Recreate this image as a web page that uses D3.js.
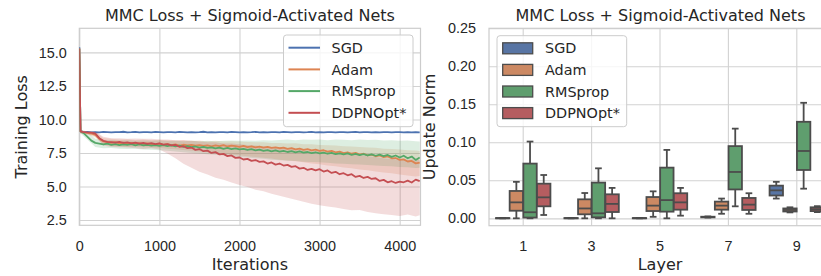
<!DOCTYPE html>
<html>
<head>
<meta charset="utf-8">
<script src="https://cdn.jsdelivr.net/npm/d3@7"></script>
<style>
  body { margin: 0; background: #fff; }
  svg { display: block; font-family: "DejaVu Sans", sans-serif; }
  .grid line { stroke: #d2d2d2; stroke-width: 1.1; }
  .grid path { display: none; }
  .tick-labels path, .tick-labels line { display: none; }
  .tick-labels text { fill: #262626; font-size: 14.4px; }
</style>
</head>
<body>
<div id="chart"></div>
<script>
// Left panel: training loss curves (iterations sampled every 50)
const iters = [
  0, 15, 50, 100, 150, 200, 250, 300, 350, 400,
  450, 500, 550, 600, 650, 700, 750, 800, 850, 900,
  950, 1000, 1050, 1100, 1150, 1200, 1250, 1300, 1350, 1400,
  1450, 1500, 1550, 1600, 1650, 1700, 1750, 1800, 1850, 1900,
  1950, 2000, 2050, 2100, 2150, 2200, 2250, 2300, 2350, 2400,
  2450, 2500, 2550, 2600, 2650, 2700, 2750, 2800, 2850, 2900,
  2950, 3000, 3050, 3100, 3150, 3200, 3250, 3300, 3350, 3400,
  3450, 3500, 3550, 3600, 3650, 3700, 3750, 3800, 3850, 3900,
  3950, 4000, 4050, 4100, 4150, 4200, 4250
];

const sgdLoss = [
  15.4, 9.15, 9.05, 9.07, 9.03, 9.06, 9.04, 9.07, 9.05, 9.03,
  9.06, 9.05, 9.08, 9.04, 9.05, 9.07, 9.03, 9.05, 9.06, 9.04,
  9.07, 9.05, 9.03, 9.06, 9.05, 9.04, 9.07, 9.05, 9.03, 9.06,
  9.04, 9.05, 9.08, 9.04, 9.05, 9.03, 9.06, 9.05, 9.04, 9.07,
  9.05, 9.03, 9.06, 9.04, 9.05, 9.07, 9.04, 9.05, 9.03, 9.06,
  9.05, 9.04, 9.07, 9.05, 9.03, 9.05, 9.06, 9.04, 9.05, 9.07,
  9.04, 9.05, 9.03, 9.06, 9.05, 9.04, 9.06, 9.05, 9.03, 9.05,
  9.07, 9.04, 9.05, 9.06, 9.03, 9.05, 9.04, 9.06, 9.05, 9.03,
  9.05, 9.06, 9.04, 9.05, 9.03, 9.05, 9.04
];

const adamLoss = [
  15.3, 9.1, 9.05, 9.0, 8.95, 8.85, 8.55, 8.36, 8.3, 8.26,
  8.31, 8.22, 8.27, 8.2, 8.25, 8.17, 8.23, 8.15, 8.21, 8.16,
  8.12, 8.19, 8.1, 8.15, 8.08, 8.13, 8.05, 8.11, 8.06, 8.1,
  8.04, 8.09, 8.02, 8.07, 7.99, 8.06, 8.01, 8.08, 7.98, 8.04,
  8.0, 7.96, 8.03, 7.94, 7.99, 7.92, 7.97, 7.9, 7.95, 7.87,
  7.92, 7.85, 7.9, 7.8, 7.86, 7.76, 7.82, 7.73, 7.78, 7.69,
  7.74, 7.65, 7.7, 7.6, 7.66, 7.55, 7.6, 7.49, 7.55, 7.44,
  7.5, 7.38, 7.44, 7.32, 7.37, 7.25, 7.31, 7.18, 7.24, 7.1,
  7.12, 6.98, 7.02, 6.86, 6.9, 6.72, 6.78
];

const rmspropLoss = [
  15.3, 9.1, 9.0, 8.72, 8.42, 8.25, 8.2, 8.13, 8.19, 8.1,
  8.16, 8.08, 8.14, 8.1, 8.16, 8.07, 8.13, 8.06, 8.11, 8.04,
  8.09, 8.03, 8.08, 8.01, 8.06, 7.99, 8.04, 7.96, 8.01, 7.93,
  7.98, 7.9, 7.95, 7.87, 7.92, 7.84, 7.89, 7.81, 7.87, 7.78,
  7.84, 7.76, 7.81, 7.72, 7.78, 7.69, 7.75, 7.66, 7.71, 7.62,
  7.69, 7.6, 7.66, 7.57, 7.63, 7.54, 7.61, 7.52, 7.57, 7.48,
  7.55, 7.46, 7.53, 7.44, 7.51, 7.41, 7.47, 7.39, 7.46, 7.36,
  7.43, 7.33, 7.41, 7.31, 7.39, 7.29, 7.37, 7.26, 7.35, 7.21,
  7.31, 7.16, 7.29, 7.1, 7.23, 6.98, 7.16
];

const ddpnLoss = [
  15.3, 9.1, 9.05, 9.03, 9.02, 8.95, 8.6, 8.4, 8.33, 8.3,
  8.27, 8.32, 8.25, 8.29, 8.22, 8.27, 8.2, 8.25, 8.18, 8.23,
  8.15, 8.21, 8.12, 8.16, 8.06, 8.1, 7.96, 8.0, 7.86, 7.9,
  7.73, 7.79, 7.63, 7.67, 7.5, 7.56, 7.39, 7.43, 7.26, 7.31,
  7.13, 7.16, 7.01, 7.06, 6.91, 6.97, 6.83, 6.87, 6.71, 6.79,
  6.63, 6.71, 6.56, 6.61, 6.46, 6.51, 6.33, 6.39, 6.23, 6.31,
  6.2, 6.29, 6.11, 6.19, 6.01, 6.09, 5.91, 5.99, 5.83, 5.91,
  5.71, 5.79, 5.63, 5.71, 5.56, 5.61, 5.41, 5.49, 5.31, 5.39,
  5.26, 5.36, 5.31, 5.43, 5.29, 5.51, 5.39
];

// Confidence bands (sampled every 100)
const bandIters = [
  0, 15, 100, 200, 300, 400, 500, 600, 700, 800,
  900, 1000, 1100, 1200, 1300, 1400, 1500, 1600, 1700, 1800,
  1900, 2000, 2100, 2200, 2300, 2400, 2500, 2600, 2700, 2800,
  2900, 3000, 3100, 3200, 3300, 3400, 3500, 3600, 3700, 3800,
  3900, 4000, 4100, 4200, 4250
];
const adamLow = [
  15.0, 8.95, 8.88, 8.65, 8.12, 8.02, 7.98, 7.95, 7.97, 7.92,
  7.9, 7.88, 7.82, 7.78, 7.72, 7.66, 7.6, 7.55, 7.5, 7.44,
  7.38, 7.33, 7.26, 7.2, 7.14, 7.08, 7.0, 6.94, 6.88, 6.8,
  6.72, 6.66, 6.57, 6.5, 6.42, 6.35, 6.27, 6.2, 6.12, 6.04,
  5.98, 5.9, 5.82, 5.75, 5.78
];
const adamHigh = [
  15.6, 9.2, 9.12, 9.06, 8.62, 8.56, 8.5, 8.52, 8.46, 8.5,
  8.45, 8.48, 8.44, 8.42, 8.45, 8.4, 8.42, 8.38, 8.4, 8.35,
  8.38, 8.35, 8.32, 8.3, 8.3, 8.25, 8.25, 8.2, 8.22, 8.15,
  8.15, 8.1, 8.08, 8.05, 8.0, 7.98, 7.95, 7.9, 7.88, 7.82,
  7.8, 7.75, 7.7, 7.68, 7.65
];
const rmspropLow = [
  15.0, 8.95, 8.5, 7.95, 7.85, 7.87, 7.82, 7.8, 7.82, 7.75,
  7.74, 7.7, 7.66, 7.6, 7.56, 7.5, 7.46, 7.4, 7.36, 7.3,
  7.26, 7.2, 7.16, 7.1, 7.06, 7.0, 6.96, 6.92, 6.89, 6.85,
  6.83, 6.8, 6.76, 6.72, 6.7, 6.65, 6.63, 6.6, 6.56, 6.52,
  6.5, 6.45, 6.43, 6.38, 6.4
];
const rmspropHigh = [
  15.6, 9.2, 9.05, 8.55, 8.45, 8.47, 8.42, 8.45, 8.4, 8.43,
  8.4, 8.42, 8.39, 8.41, 8.38, 8.41, 8.38, 8.4, 8.37, 8.41,
  8.42, 8.4, 8.43, 8.4, 8.45, 8.42, 8.46, 8.5, 8.45, 8.51,
  8.48, 8.5, 8.45, 8.51, 8.48, 8.45, 8.5, 8.46, 8.48, 8.42,
  8.45, 8.4, 8.42, 8.38, 8.35
];
const ddpnLow = [
  15.0, 8.95, 8.9, 8.75, 8.05, 7.95, 7.92, 7.9, 7.85, 7.8,
  7.85, 7.75, 7.45, 7.1, 6.7, 6.4, 6.1, 5.9, 5.65, 5.5,
  5.3, 5.1, 4.95, 4.75, 4.65, 4.45, 4.3, 4.15, 4.0, 3.85,
  3.7, 3.6, 3.5, 3.42, 3.32, 3.22, 3.25, 3.1, 3.0, 2.92,
  2.86, 2.8, 2.9, 2.75, 2.85
];
const ddpnHigh = [
  15.6, 9.2, 9.12, 9.1, 8.7, 8.6, 8.6, 8.55, 8.58, 8.55,
  8.55, 8.5, 8.5, 8.45, 8.45, 8.4, 8.35, 8.3, 8.3, 8.2,
  8.2, 8.15, 8.1, 8.05, 8.0, 7.95, 7.9, 7.85, 7.8, 7.7,
  7.65, 7.6, 7.6, 7.5, 7.45, 7.4, 7.3, 7.25, 7.2, 7.1,
  7.05, 7.0, 7.0, 7.05, 6.95
];

const lossTicksX = [0, 1000, 2000, 3000, 4000];
const lossTicksY = [2.5, 5.0, 7.5, 10.0, 12.5, 15.0];

// Right panel: update norm box plots, [low whisker, q1, median, q3, high whisker]
const layers = ["1", "3", "5", "7", "9"];
const optimizers = ["SGD", "Adam", "RMSprop", "DDPNOpt*"];
const sgdBoxes = [
  [0, 0, 0.0002, 0.0004, 0.0005],
  [0, 0, 0.0002, 0.0004, 0.0005],
  [0, 0, 0.0002, 0.0004, 0.0005],
  [0.001, 0.0013, 0.0017, 0.0021, 0.0025],
  [0.026, 0.030, 0.0368, 0.043, 0.048]
];
const adamBoxes = [
  [0, 0.010, 0.021, 0.036, 0.048],
  [0, 0.0053, 0.013, 0.025, 0.0333],
  [0.002, 0.0096, 0.0167, 0.028, 0.0355],
  [0.006, 0.0114, 0.0167, 0.022, 0.026],
  [0.0078, 0.009, 0.011, 0.013, 0.0145]
];
const rmspropBoxes = [
  [0, 0.001, 0.008, 0.072, 0.101],
  [0, 0.0013, 0.0066, 0.047, 0.0658],
  [0, 0.0088, 0.024, 0.0667, 0.090],
  [0.0158, 0.038, 0.061, 0.095, 0.118],
  [0.039, 0.0636, 0.0886, 0.127, 0.152]
];
const ddpnBoxes = [
  [0.0044, 0.0158, 0.0276, 0.0456, 0.057],
  [0, 0.0083, 0.019, 0.0316, 0.040],
  [0.0035, 0.0114, 0.021, 0.033, 0.040],
  [0.006, 0.011, 0.018, 0.0268, 0.033],
  [0.0082, 0.0095, 0.012, 0.0145, 0.016]
];
const normTicks = [0, 0.05, 0.10, 0.15, 0.20, 0.25];

const lineColors = ["#4c72b0", "#dd8452", "#55a868", "#c44e52"];
const boxColors = ["#5875a4", "#cc8963", "#5f9e6e", "#b55d60"];
const boxEdge = "#4c4c4c";
const textColor = "#262626";

const width = 821;
const height = 276;

const svg = d3.select('#chart')
  .append('svg')
  .attr('width', width)
  .attr('height', height);

// ---------- left panel ----------
const L = { left: 79.3, right: 420.5, top: 28.3, bottom: 225.3 };

const xScale = d3.scaleLinear().domain([0, 4260]).range([L.left, L.right]);
const yScale = d3.scaleLinear().domain([2.1, 16.8]).range([L.bottom, L.top]);

svg.append('defs').append('clipPath')
  .attr('id', 'clip-left')
  .append('rect')
  .attr('x', L.left).attr('y', L.top)
  .attr('width', L.right - L.left).attr('height', L.bottom - L.top);

svg.append('g')
  .attr('class', 'grid')
  .attr('transform', `translate(0,${L.bottom})`)
  .call(d3.axisBottom(xScale).tickValues(lossTicksX).tickSize(-(L.bottom - L.top)).tickFormat(''));

svg.append('g')
  .attr('class', 'grid')
  .attr('transform', `translate(${L.left},0)`)
  .call(d3.axisLeft(yScale).tickValues(lossTicksY).tickSize(-(L.right - L.left)).tickFormat(''));

svg.append('rect')
  .attr('x', L.left).attr('y', L.top)
  .attr('width', L.right - L.left).attr('height', L.bottom - L.top)
  .style('fill', 'none').style('stroke', '#cccccc').style('stroke-width', 1.2);

const lossSeries = [sgdLoss, adamLoss, rmspropLoss, ddpnLoss];
const bands = [null, [adamLow, adamHigh], [rmspropLow, rmspropHigh], [ddpnLow, ddpnHigh]];

const plotLeft = svg.append('g').attr('clip-path', 'url(#clip-left)');

const area = d3.area()
  .x(d => xScale(d.it))
  .y0(d => yScale(d.lo))
  .y1(d => yScale(d.hi));

bands.forEach((b, i) => {
  if (!b) return;
  const rows = bandIters.map((it, k) => ({ it: it, lo: b[0][k], hi: b[1][k] }));
  plotLeft.append('path')
    .attr('d', area(rows))
    .style('fill', lineColors[i])
    .style('opacity', 0.2);
});

const line = d3.line()
  .x(d => xScale(d.it))
  .y(d => yScale(d.v));

lossSeries.forEach((s, i) => {
  const rows = iters.map((it, k) => ({ it: it, v: s[k] }));
  plotLeft.append('path')
    .attr('d', line(rows))
    .style('fill', 'none')
    .style('stroke', lineColors[i])
    .style('stroke-width', 1.8)
    .style('stroke-linejoin', 'round');
});

svg.append('g')
  .attr('class', 'tick-labels')
  .attr('transform', `translate(0,${L.bottom})`)
  .call(d3.axisBottom(xScale).tickValues(lossTicksX).tickSize(0).tickPadding(15).tickFormat(d3.format('d')));

svg.append('g')
  .attr('class', 'tick-labels')
  .attr('transform', `translate(${L.left},0)`)
  .call(d3.axisLeft(yScale).tickValues(lossTicksY).tickSize(0).tickPadding(12.6).tickFormat(d3.format('.1f')));

svg.append('text')
  .attr('x', (L.left + L.right) / 2).attr('y', 20.5)
  .attr('text-anchor', 'middle')
  .style('font-size', '16px').style('fill', textColor)
  .text('MMC Loss + Sigmoid-Activated Nets');

svg.append('text')
  .attr('x', (L.left + L.right) / 2).attr('y', 270)
  .attr('text-anchor', 'middle')
  .style('font-size', '16px').style('fill', textColor)
  .text('Iterations');

svg.append('text')
  .attr('transform', `translate(26.7,${(L.top + L.bottom) / 2}) rotate(-90)`)
  .attr('text-anchor', 'middle')
  .style('font-size', '16px').style('fill', textColor)
  .text('Training Loss');

// left legend
const legL = svg.append('g');
legL.append('rect')
  .attr('x', 283.5).attr('y', 35).attr('width', 129.5).attr('height', 91.7)
  .attr('rx', 3)
  .style('fill', 'rgba(255,255,255,0.8)').style('stroke', '#cccccc').style('stroke-width', 1);
optimizers.forEach((name, i) => {
  const yRow = 47.7 + i * 21.7;
  legL.append('line')
    .attr('x1', 288.5).attr('x2', 320).attr('y1', yRow).attr('y2', yRow)
    .style('stroke', lineColors[i]).style('stroke-width', 2);
  legL.append('text')
    .attr('x', 331.5).attr('y', yRow).attr('dy', '0.36em')
    .style('font-size', '14.4px').style('fill', textColor)
    .text(name);
});

// ---------- right panel ----------
const R = { left: 489, right: 831, top: 28.3, bottom: 225.7 };

const xBand = d3.scaleBand().domain(layers).range([R.left, R.right]).padding(0);
const yNorm = d3.scaleLinear().domain([-0.0097, 0.25]).range([R.bottom, R.top]);
const hueScale = d3.scaleBand().domain(optimizers).range([0, xBand.bandwidth() * 0.8]);

svg.append('g')
  .attr('class', 'grid')
  .attr('transform', `translate(0,${R.bottom})`)
  .call(d3.axisBottom(xBand).tickSize(-(R.bottom - R.top)).tickFormat(''));

svg.append('g')
  .attr('class', 'grid')
  .attr('transform', `translate(${R.left},0)`)
  .call(d3.axisLeft(yNorm).tickValues(normTicks).tickSize(-(R.right - R.left)).tickFormat(''));

svg.append('rect')
  .attr('x', R.left).attr('y', R.top)
  .attr('width', R.right - R.left).attr('height', R.bottom - R.top)
  .style('fill', 'none').style('stroke', '#cccccc').style('stroke-width', 1.2);

const allBoxes = [sgdBoxes, adamBoxes, rmspropBoxes, ddpnBoxes];
const boxW = hueScale.bandwidth() * 0.98;

const boxG = svg.append('g');
layers.forEach((layer, li) => {
  optimizers.forEach((opt, oi) => {
    const [lo, q1, med, q3, hi] = allBoxes[oi][li];
    const cx = xBand(layer) + xBand.bandwidth() * 0.1 + hueScale(opt) + hueScale.bandwidth() / 2;
    const g = boxG.append('g')
      .style('stroke', boxEdge).style('stroke-width', 1.8);
    // whiskers
    g.append('line').attr('x1', cx).attr('x2', cx).attr('y1', yNorm(q3)).attr('y2', yNorm(hi));
    g.append('line').attr('x1', cx).attr('x2', cx).attr('y1', yNorm(q1)).attr('y2', yNorm(lo));
    // caps
    g.append('line').attr('x1', cx - boxW / 4).attr('x2', cx + boxW / 4).attr('y1', yNorm(hi)).attr('y2', yNorm(hi));
    g.append('line').attr('x1', cx - boxW / 4).attr('x2', cx + boxW / 4).attr('y1', yNorm(lo)).attr('y2', yNorm(lo));
    // box
    g.append('rect')
      .attr('x', cx - boxW / 2).attr('width', boxW)
      .attr('y', yNorm(q3)).attr('height', Math.max(0.01, yNorm(q1) - yNorm(q3)))
      .style('fill', boxColors[oi]);
    // median
    g.append('line').attr('x1', cx - boxW / 2).attr('x2', cx + boxW / 2).attr('y1', yNorm(med)).attr('y2', yNorm(med));
  });
});

svg.append('g')
  .attr('class', 'tick-labels')
  .attr('transform', `translate(0,${R.bottom})`)
  .call(d3.axisBottom(xBand).tickSize(0).tickPadding(14.6));

svg.append('g')
  .attr('class', 'tick-labels')
  .attr('transform', `translate(${R.left},0)`)
  .call(d3.axisLeft(yNorm).tickValues(normTicks).tickSize(0).tickPadding(13).tickFormat(d3.format('.2f')));

svg.append('text')
  .attr('x', 660.5).attr('y', 20.5)
  .attr('text-anchor', 'middle')
  .style('font-size', '16px').style('fill', textColor)
  .text('MMC Loss + Sigmoid-Activated Nets');

svg.append('text')
  .attr('x', 660).attr('y', 270)
  .attr('text-anchor', 'middle')
  .style('font-size', '16px').style('fill', textColor)
  .text('Layer');

svg.append('text')
  .attr('transform', `translate(434.5,${(R.top + R.bottom) / 2}) rotate(-90)`)
  .attr('text-anchor', 'middle')
  .style('font-size', '16px').style('fill', textColor)
  .text('Update Norm');

// right legend
const legR = svg.append('g');
legR.append('rect')
  .attr('x', 497).attr('y', 35.7).attr('width', 129.7).attr('height', 91)
  .attr('rx', 3)
  .style('fill', 'rgba(255,255,255,0.8)').style('stroke', '#cccccc').style('stroke-width', 1);
optimizers.forEach((name, i) => {
  const yRow = 48.3 + i * 21.6;
  legR.append('rect')
    .attr('x', 502.7).attr('y', yRow - 5.5).attr('width', 30).attr('height', 11)
    .style('fill', boxColors[i]).style('stroke', boxEdge).style('stroke-width', 1.3);
  legR.append('text')
    .attr('x', 545).attr('y', yRow).attr('dy', '0.36em')
    .style('font-size', '14.4px').style('fill', textColor)
    .text(name);
});
</script>
</body>
</html>
